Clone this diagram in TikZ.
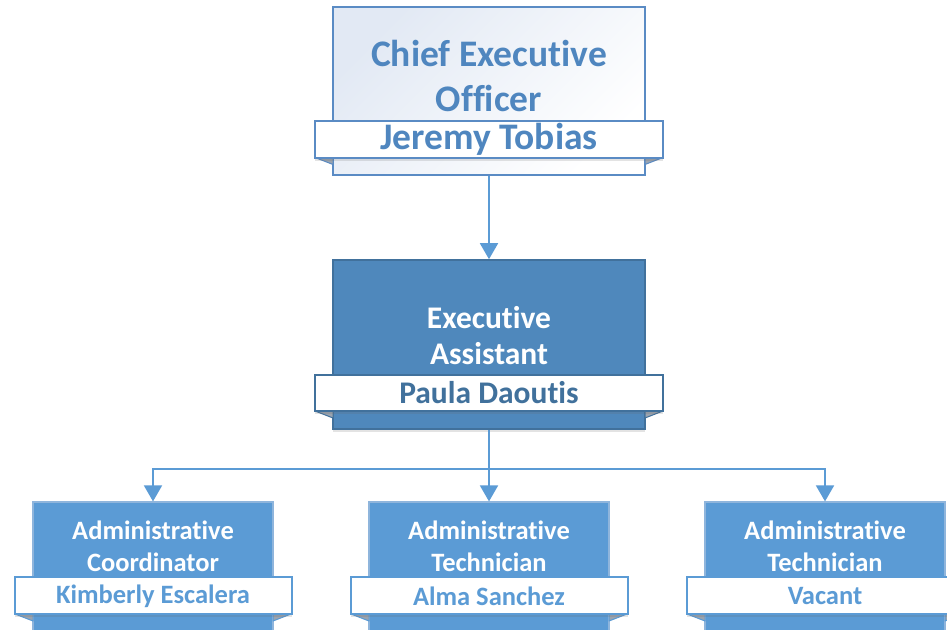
\documentclass[tikz,border=0pt]{standalone}
\usepackage{fontspec}
\setmainfont{Carlito}[Ligatures=NoCommon]
\usetikzlibrary{arrows.meta,shadows}
\definecolor{ceotop}{HTML}{E2E9F4}
\definecolor{ceoline}{HTML}{5A8BC4}
\definecolor{ceotext}{HTML}{4F86BF}
\definecolor{eafill}{HTML}{4F88BC}
\definecolor{ealine}{HTML}{41719C}
\definecolor{eaname}{HTML}{41719C}
\definecolor{subfill}{HTML}{5B9BD5}
\definecolor{subline}{HTML}{8FB5DC}
\definecolor{arrowc}{HTML}{5B9BD5}
\definecolor{foldc}{HTML}{9AA4B0}
\tikzset{
  boxshadow/.style={drop shadow={shadow xshift=0pt,shadow yshift=-3pt,opacity=0.18,fill=black!60}},
  ceobox/.style={draw=ceoline,line width=1.6pt,top color=ceotop,bottom color=white,shading angle=45,minimum width=312pt,minimum height=168pt,inner sep=0pt},
  eabox/.style={draw=ealine,line width=1.6pt,fill=eafill,minimum width=312pt,minimum height=169pt,inner sep=0pt,boxshadow},
  subbox/.style={draw=subline,line width=1.2pt,fill=subfill,minimum width=240pt,minimum height=140pt,inner sep=0pt,boxshadow},
  plate/.style={draw=#1,line width=1.4pt,fill=white,inner sep=0pt,boxshadow},
  fold/.style={fill=foldc,draw=#1,line width=1pt,line join=round},
  conn/.style={draw=arrowc,line width=1.8pt},
  arr/.style={conn,-{Triangle[width=18pt,length=16pt]}},
  ceotitle/.style={text=ceotext,font=\bfseries\fontsize{37.5}{45}\selectfont,align=center},
  eatitle/.style={text=white,font=\bfseries\fontsize{31.5}{36}\selectfont,align=center},
  subtitle/.style={text=white,font=\bfseries\fontsize{26.5}{32}\selectfont,align=center},
}
\begin{document}
\begin{tikzpicture}[x=1pt,y=-1pt]
\useasboundingbox (0,0) rectangle (947,629);
\fill[white] (0,0) rectangle (947,629);
\clip (0,0) rectangle (947,629);
% CEO
\node[ceobox] (ceo) at (489,91) {};
\fill[fold=ceoline] (315,157.5) -- (333,157.5) -- (333,164.5) -- cycle;
\fill[fold=ceoline] (663,157.5) -- (645,157.5) -- (645,164.5) -- cycle;
\node[plate=ceoline,minimum width=348pt,minimum height=37pt] (ceop) at (489,139.5) {};
\node[ceotitle] (ceot) at (489,76) {Chief Executive\\Officer};
\node[ceotitle] (ceon) at (489,139) {Jeremy Tobias};
% EA
\node[eabox] (ea) at (489,344.5) {};
\fill[fold=ealine] (315,411) -- (333,411) -- (333,418) -- cycle;
\fill[fold=ealine] (663,411) -- (645,411) -- (645,418) -- cycle;
\node[plate=ealine,minimum width=348pt,minimum height=36pt] (eap) at (489,393) {};
\node[eatitle] (eat) at (489,336) {Executive\\Assistant};
\node[text=eaname,font=\bfseries\fontsize{31.5}{36}\selectfont] (ean) at (489,393) {Paula Daoutis};
% subordinates
\foreach \n/\cx/\ta/\tb/\nm in {s1/153/Administrative/Coordinator/Kimberly Escalera,
                               s2/489/Administrative/Technician/Alma Sanchez,
                               s3/825/Administrative/Technician/Vacant}{
  \node[subbox] (\n) at (\cx,572) {};
  \fill[fold=subfill] (\cx-138,614) -- (\cx-120,614) -- (\cx-120,621) -- cycle;
  \fill[fold=subfill] (\cx+138,614) -- (\cx+120,614) -- (\cx+120,621) -- cycle;
  \node[plate=subfill,minimum width=277pt,minimum height=37pt] (\n p) at (\cx+0.5,595.5) {};
  \node[subtitle] (\n t) at (\cx,546) {\ta\\\tb};
  \node[text=subfill,font=\bfseries\fontsize{26.5}{32}\selectfont] (\n n) at (\cx,596) {\nm};
}
% connectors
\draw[arr] (ceo.south) -- (ea.north);
\coordinate (j) at (489,469);
\draw[conn] (ea.south) -- (j);
\draw[arr] (j) -| (s1.north);
\draw[arr] (j) -- (s2.north);
\draw[arr] (j) -| (s3.north);
\end{tikzpicture}
\end{document}
